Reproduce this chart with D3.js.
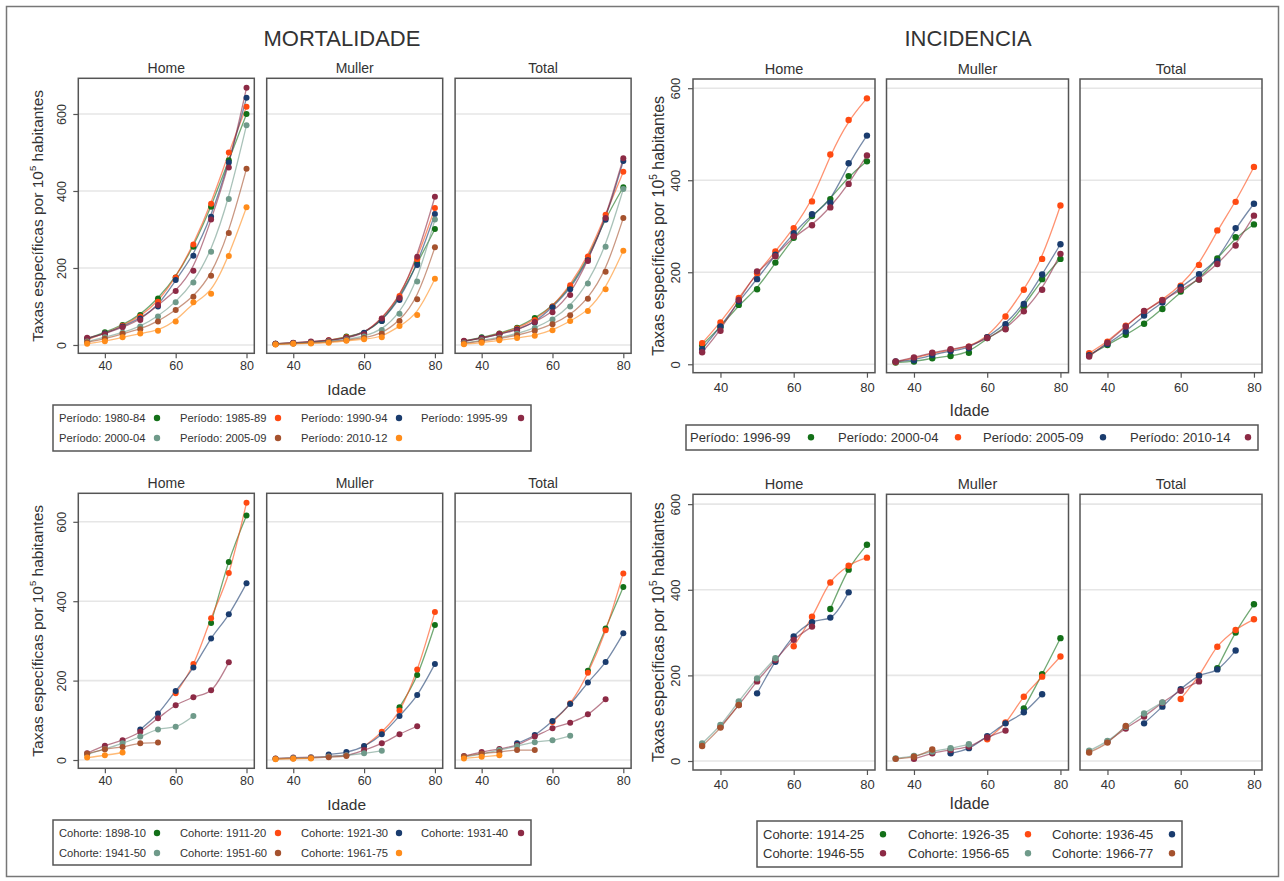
<!DOCTYPE html>
<html lang="pt">
<head>
<meta charset="UTF-8">
<title>Mortalidade e Incidencia</title>
<script src="https://cdn.jsdelivr.net/npm/d3@7"></script>
<style>
  body { margin: 0; background: #fff; }
  text { font-family: "Liberation Sans", Arial, sans-serif; fill: #333; }
</style>
</head>
<body>
<svg id="fig" width="1284" height="881"></svg>
<script>
// ---- data ----
const ages = [35, 40, 45, 50, 55, 60, 65, 70, 75, 80];
const panelNames = ["Home", "Muller", "Total"];
const xTicks = [40, 60, 80];
const yTicks = [0, 200, 400, 600];

const colMort = ["#137018", "#ff4a12", "#1a3c6e", "#8c2a45", "#6f9a8a", "#a5522e", "#ff8c1a"];
const colInc = ["#137018", "#ff4a12", "#1a3c6e", "#8c2a45"];
const colCohInc = ["#137018", "#ff4a12", "#1a3c6e", "#8c2a45", "#6f9a8a", "#a5522e"];

// mortality by period
const periodsMort = ["Período: 1980-84", "Período: 1985-89", "Período: 1990-94", "Período: 1995-99",
                     "Período: 2000-04", "Período: 2005-09", "Período: 2010-12"];
const mortHome = [
  [16, 33, 52, 78, 121, 175, 255, 359, 480, 600],
  [14, 30, 50, 74, 112, 175, 261, 367, 500, 619],
  [16, 30, 48, 69, 100, 169, 232, 333, 474, 642],
  [19, 28, 46, 65, 104, 140, 193, 326, 461, 668],
  [9, 20, 32, 48, 74, 111, 162, 242, 379, 571],
  [7, 16, 29, 41, 61, 91, 125, 180, 291, 458],
  [3, 10, 20, 30, 37, 61, 111, 133, 231, 358]
];
const mortMuller = [
  [3, 5, 7, 11, 22, 30, 62, 122, 212, 301],
  [3, 5, 8, 12, 20, 30, 68, 127, 223, 356],
  [3, 5, 8, 11, 18, 32, 62, 117, 208, 340],
  [3, 6, 9, 12, 18, 28, 69, 122, 229, 385],
  [2, 4, 6, 9, 14, 22, 39, 81, 165, 326],
  [2, 4, 5, 8, 12, 18, 29, 62, 119, 254],
  [1, 3, 4, 6, 11, 15, 20, 49, 78, 172]
];
const mortTotal = [
  [10, 20, 30, 45, 70, 100, 150, 225, 330, 410],
  [9, 18, 29, 43, 65, 100, 155, 230, 338, 450],
  [9, 18, 28, 40, 58, 98, 145, 220, 325, 478],
  [11, 17, 28, 38, 60, 85, 130, 218, 330, 485],
  [5, 12, 19, 29, 44, 66, 100, 160, 255, 405],
  [4, 10, 17, 25, 37, 54, 77, 120, 190, 330],
  [2, 6, 12, 18, 24, 38, 62, 88, 145, 245]
];

// incidence by period
const periodsInc = ["Período: 1996-99", "Período: 2000-04", "Período: 2005-09", "Período: 2010-14"];
const incHome = [
  [42, 81, 129, 163, 221, 275, 322, 359, 409, 441],
  [46, 91, 144, 198, 245, 296, 354, 456, 531, 578],
  [33, 82, 137, 185, 238, 285, 326, 351, 437, 497],
  [26, 73, 140, 202, 235, 278, 302, 341, 392, 454]
];
const incMuller = [
  [4, 6, 13, 18, 25, 57, 78, 126, 185, 229],
  [5, 13, 24, 31, 38, 59, 104, 162, 229, 345],
  [6, 9, 20, 29, 35, 59, 87, 131, 195, 261],
  [6, 15, 25, 33, 38, 57, 76, 115, 162, 240]
];
const incTotal = [
  [20, 42, 64, 88, 120, 158, 184, 230, 276, 304],
  [24, 49, 84, 115, 140, 171, 216, 291, 353, 429],
  [20, 44, 71, 106, 134, 168, 196, 224, 296, 349],
  [17, 47, 82, 116, 139, 162, 184, 218, 258, 323]
];

// mortality by cohort
const cohortsMort = ["Cohorte: 1898-10", "Cohorte: 1911-20", "Cohorte: 1921-30", "Cohorte: 1931-40",
                     "Cohorte: 1941-50", "Cohorte: 1951-60", "Cohorte: 1961-75"];
const cohMortAges = [
  [70, 75, 80],
  [60, 65, 70, 75, 80],
  [50, 55, 60, 65, 70, 75, 80],
  [35, 40, 45, 50, 55, 60, 65, 70, 75],
  [35, 40, 45, 50, 55, 60, 65],
  [35, 40, 45, 50, 55],
  [35, 40, 45]
];
const cohMortHome = [
  [345, 499, 616],
  [168, 242, 357, 471, 648],
  [77, 117, 174, 233, 306, 367, 445],
  [17, 36, 50, 71, 105, 138, 158, 176, 246],
  [14, 28, 42, 59, 77, 84, 111],
  [16, 27, 33, 42, 44],
  [6, 12, 19]
];
const cohMortMuller = [
  [133, 214, 340],
  [34, 71, 125, 228, 373],
  [14, 20, 35, 65, 111, 164, 242],
  [4, 6, 7, 9, 12, 25, 42, 65, 85],
  [3, 5, 6, 9, 12, 17, 23],
  [3, 4, 5, 7, 10],
  [2, 3, 4]
];
const cohMortTotal = [
  [225, 331, 436],
  [96, 143, 220, 327, 470],
  [42, 63, 98, 141, 195, 247, 319],
  [10, 20, 28, 38, 59, 80, 94, 115, 153],
  [8, 15, 25, 35, 45, 50, 61],
  [9, 16, 20, 25, 25],
  [4, 8, 12]
];

// incidence by cohort
const cohortsInc = ["Cohorte: 1914-25", "Cohorte: 1926-35", "Cohorte: 1936-45",
                    "Cohorte: 1946-55", "Cohorte: 1956-65", "Cohorte: 1966-77"];
const cohIncAges = [
  [70, 75, 80],
  [60, 65, 70, 75, 80],
  [50, 55, 60, 65, 70, 75],
  [40, 45, 50, 55, 60, 65],
  [35, 40, 45, 50, 55],
  [35, 40, 45]
];
const cohIncHome = [
  [355, 447, 505],
  [268, 337, 417, 456, 475],
  [158, 232, 291, 324, 335, 394],
  [80, 131, 186, 236, 283, 314],
  [41, 84, 139, 193, 240],
  [35, 78, 131]
];
const cohIncMuller = [
  [123, 203, 287],
  [51, 90, 150, 197, 244],
  [18, 30, 58, 88, 114, 156],
  [5, 18, 26, 34, 55, 71],
  [6, 12, 22, 30, 39],
  [5, 10, 27]
];
const cohIncTotal = [
  [217, 300, 366],
  [145, 200, 267, 306, 331],
  [88, 127, 168, 199, 214, 258],
  [45, 76, 104, 136, 164, 186],
  [24, 47, 80, 111, 137],
  [20, 43, 82]
];

// ---- drawing ----
const svg = d3.select("#fig");
svg.append("rect").attr("x", 6.5).attr("y", 6.5).attr("width", 1272).attr("height", 870)
   .attr("fill", "#fff").attr("stroke", "#777").attr("stroke-width", 1.5);

function drawChart(o) {
  const x = d3.scaleLinear().domain([32.5, 82.2]).range([0, o.pw]);
  const y = d3.scaleLinear().domain(o.yDom).range([o.bottom, o.top]);
  const line = d3.line().x(d => x(d[0])).y(d => y(d[1])).curve(o.curve);

  o.panels.forEach((panel, i) => {
    const left = o.x0 + i * (o.pw + o.gap);
    const pg = svg.append("g").attr("transform", `translate(${left},0)`);

    pg.selectAll("line.grid").data(yTicks).enter().append("line")
      .attr("class", "grid")
      .attr("x1", 0).attr("x2", o.pw)
      .attr("y1", d => y(d)).attr("y2", d => y(d))
      .attr("stroke", "#e6e6e6").attr("stroke-width", 1.6);

    const series = panel.map((vals, s) => {
      const ag = o.ages ? o.ages[s] : ages;
      return { c: o.colors[s], pts: ag.map((a, k) => [a, vals[k]]) };
    });

    series.forEach(sr => {
      pg.append("path").datum(sr.pts)
        .attr("d", line)
        .attr("fill", "none")
        .attr("stroke", sr.c).attr("stroke-opacity", 0.6).attr("stroke-width", 1.3);
    });
    series.forEach(sr => {
      pg.selectAll(null).data(sr.pts).enter().append("circle")
        .attr("cx", d => x(d[0])).attr("cy", d => y(d[1]))
        .attr("r", o.r).attr("fill", sr.c);
    });

    pg.append("rect")
      .attr("x", 0).attr("y", o.top).attr("width", o.pw).attr("height", o.bottom - o.top)
      .attr("fill", "none").attr("stroke", "#555").attr("stroke-width", 1.5);

    const xa = pg.append("g").attr("transform", `translate(0,${o.bottom})`)
      .call(d3.axisBottom(x).tickValues(xTicks).tickSize(5).tickPadding(o.xPad));
    xa.select(".domain").remove();
    xa.selectAll(".tick line").attr("stroke", "#555").attr("stroke-width", 1.2);
    xa.selectAll(".tick text").attr("font-size", o.font).attr("fill", "#333")
      .attr("font-family", "Liberation Sans, Arial, sans-serif");

    pg.append("text").attr("x", o.pw / 2).attr("y", o.top - 5)
      .attr("text-anchor", "middle").attr("font-size", o.font + 1.5).attr("fill", "#222")
      .text(panelNames[i]);

    if (i === 0) {
      const ya = pg.append("g").call(d3.axisLeft(y).tickValues(yTicks).tickSize(5));
      ya.select(".domain").remove();
      ya.selectAll(".tick line").attr("stroke", "#555").attr("stroke-width", 1.2);
      ya.selectAll(".tick text")
        .attr("x", null).attr("dy", null)
        .attr("transform", `translate(${-o.yPad},0) rotate(-90)`)
        .attr("text-anchor", "middle")
        .attr("font-size", o.font).attr("fill", "#333")
        .attr("font-family", "Liberation Sans, Arial, sans-serif");
    }
  });

  const cx = o.x0 + (3 * o.pw + 2 * o.gap) / 2;
  svg.append("text").attr("x", o.titleX).attr("y", o.titleY)
     .attr("text-anchor", "middle").attr("font-size", 22).attr("fill", "#111").text(o.title);
  svg.append("text").attr("x", cx - 8).attr("y", o.idadeY)
     .attr("text-anchor", "middle").attr("font-size", o.font + 3).attr("fill", "#333").text("Idade");

  const yt = svg.append("text")
    .attr("transform", `translate(${o.yTitleX},${(o.top + o.bottom) / 2}) rotate(-90)`)
    .attr("text-anchor", "middle").attr("font-size", o.font + 3).attr("fill", "#333");
  yt.append("tspan").text("Taxas específicas por 10");
  yt.append("tspan").attr("dy", -7).attr("font-size", o.font - 3).text("5");
  yt.append("tspan").attr("dy", 7).text(" habitantes");

  const L = o.legend;
  svg.append("rect").attr("x", L.x0).attr("y", L.y0).attr("width", L.x1 - L.x0).attr("height", L.y1 - L.y0)
     .attr("fill", "#fff").attr("stroke", "#555").attr("stroke-width", 1.5);
  L.labels.forEach((lab, k) => {
    const col = k % L.cols, row = Math.floor(k / L.cols);
    const yy = L.rows[row];
    svg.append("text").attr("x", L.tx[col]).attr("y", yy).attr("font-size", L.font).attr("fill", "#333").text(lab);
    svg.append("circle").attr("cx", L.dx[col]).attr("cy", yy - L.font * 0.36).attr("r", 3.2).attr("fill", o.colors[k]);
  });
}

drawChart({
  title: "MORTALIDADE", titleX: 342, titleY: 46,
  x0: 78.3, pw: 176, gap: 12.4, top: 78.3, bottom: 353.3, yDom: [-21.6, 692.7],
  font: 12.5, xPad: 3, yPad: 12, yTitleX: 43, idadeY: 395, r: 3,
  curve: d3.curveBasis, colors: colMort,
  panels: [mortHome, mortMuller, mortTotal],
  legend: { x0: 53, y0: 405, x1: 531, y1: 451, rows: [422, 442], cols: 4,
            tx: [59, 180, 301, 421], dx: [157, 278, 399, 521], font: 11.2, labels: periodsMort }
});

drawChart({
  title: "INCIDENCIA", titleX: 968, titleY: 46,
  x0: 693, pw: 182, gap: 11.5, top: 79, bottom: 372.7, yDom: [-18.3, 620],
  font: 13, xPad: 5, yPad: 13, yTitleX: 664, idadeY: 416, r: 3.2,
  curve: d3.curveBasis, colors: colInc,
  panels: [incHome, incMuller, incTotal],
  legend: { x0: 686, y0: 425, x1: 1258, y1: 450, rows: [442], cols: 4,
            tx: [690, 838, 983, 1130], dx: [811, 958, 1103, 1248], font: 13, labels: periodsInc }
});

drawChart({
  title: "", titleX: 0, titleY: 0,
  x0: 78.3, pw: 176, gap: 12.4, top: 493.3, bottom: 768.3, yDom: [-20.9, 671.8],
  font: 12.5, xPad: 3, yPad: 12, yTitleX: 43, idadeY: 810, r: 3,
  curve: d3.curveMonotoneX, colors: colMort, ages: cohMortAges,
  panels: [cohMortHome, cohMortMuller, cohMortTotal],
  legend: { x0: 53, y0: 820, x1: 531, y1: 865, rows: [837, 857], cols: 4,
            tx: [59, 180, 301, 421], dx: [157, 278, 399, 521], font: 11.2, labels: cohortsMort }
});

drawChart({
  title: "", titleX: 0, titleY: 0,
  x0: 693, pw: 182, gap: 11.5, top: 494.3, bottom: 770, yDom: [-21, 623],
  font: 13, xPad: 5, yPad: 13, yTitleX: 664, idadeY: 809, r: 3.2,
  curve: d3.curveMonotoneX, colors: colCohInc, ages: cohIncAges,
  panels: [cohIncHome, cohIncMuller, cohIncTotal],
  legend: { x0: 757, y0: 821, x1: 1182, y1: 867, rows: [839, 858], cols: 3,
            tx: [763, 908, 1052], dx: [883, 1028, 1172], font: 13, labels: cohortsInc }
});
</script>
</body>
</html>
